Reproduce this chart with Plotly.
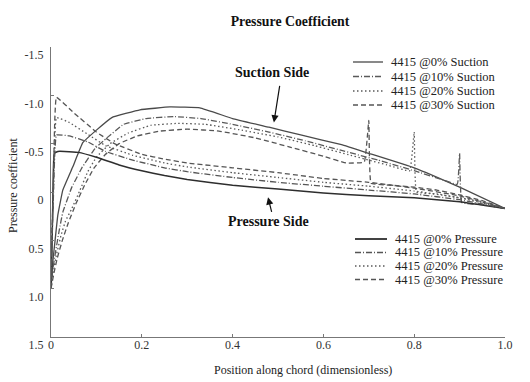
import plotly.graph_objects as go

# ---------------- data ----------------
x_suc_0 = [0, 0.004, 0.009, 0.015, 0.026, 0.048, 0.07, 0.10, 0.134, 0.196, 0.262, 0.328,
           0.40, 0.48, 0.55, 0.64, 0.70, 0.80, 0.90, 1.0]
cp_suc_0 = [1.0, 0.72, 0.50, 0.24, -0.02, -0.26, -0.51, -0.64, -0.77, -0.85, -0.88, -0.87,
            -0.76, -0.67, -0.59, -0.49, -0.40, -0.25, -0.05, 0.17]

x_suc_10 = [0, 0.004, 0.010, 0.018, 0.026, 0.045, 0.068, 0.097, 0.123, 0.16, 0.21, 0.27, 0.33,
            0.40, 0.48, 0.56, 0.64, 0.72, 0.80, 0.86, 0.895, 0.90, 0.905, 0.95, 1.0]
cp_suc_10 = [1.0, 0.80, 0.62, 0.40, 0.21, -0.04, -0.25, -0.45, -0.56, -0.70, -0.76, -0.78, -0.76,
             -0.70, -0.62, -0.53, -0.43, -0.33, -0.22, -0.13, -0.08, -0.40, 0.11, 0.13, 0.17]

x_suc_20 = [0, 0.005, 0.012, 0.022, 0.032, 0.046, 0.064, 0.081, 0.10, 0.13, 0.17, 0.22, 0.28,
            0.34, 0.42, 0.50, 0.58, 0.66, 0.74, 0.79, 0.80, 0.805, 0.85, 0.90, 0.95, 1.0]
cp_suc_20 = [1.0, 0.82, 0.65, 0.45, 0.30, 0.17, -0.02, -0.21, -0.36, -0.50, -0.61, -0.69, -0.71,
             -0.70, -0.64, -0.57, -0.48, -0.38, -0.28, -0.22, -0.62, 0.0, 0.02, 0.06, 0.10, 0.17]

x_suc_30 = [0, 0.006, 0.014, 0.025, 0.038, 0.055, 0.075, 0.095, 0.12, 0.15, 0.19, 0.24, 0.30,
            0.37, 0.45, 0.53, 0.60, 0.65, 0.69, 0.70, 0.705, 0.75, 0.80, 0.85, 0.90, 0.95, 1.0]
cp_suc_30 = [1.0, 0.85, 0.68, 0.50, 0.32, 0.12, -0.08, -0.25, -0.39, -0.50, -0.58, -0.63, -0.65,
             -0.63, -0.56, -0.46, -0.37, -0.30, -0.31, -0.74, -0.09, -0.07, -0.05, -0.02, 0.03, 0.09, 0.17]

x_pre_0 = [0, 0.002, 0.004, 0.007, 0.015, 0.03, 0.06, 0.10, 0.15, 0.20, 0.25, 0.30,
           0.40, 0.50, 0.60, 0.70, 0.80, 0.90, 1.0]
cp_pre_0 = [1.0, 0.60, 0.10, -0.40, -0.42, -0.42, -0.41, -0.36, -0.28, -0.22, -0.17, -0.13,
            -0.07, -0.03, 0.01, 0.04, 0.06, 0.10, 0.17]

x_pre_10 = [0, 0.002, 0.005, 0.012, 0.04, 0.08, 0.12, 0.18, 0.25, 0.30, 0.40, 0.50, 0.60,
            0.70, 0.80, 0.90, 1.0]
cp_pre_10 = [1.0, 0.55, 0.10, -0.59, -0.58, -0.52, -0.42, -0.33, -0.25, -0.21, -0.15, -0.10, -0.06,
             -0.02, 0.02, 0.08, 0.17]

x_pre_20 = [0, 0.002, 0.005, 0.012, 0.04, 0.08, 0.12, 0.18, 0.25, 0.30, 0.40, 0.50, 0.60,
            0.70, 0.80, 0.90, 1.0]
cp_pre_20 = [1.0, 0.50, 0.05, -0.77, -0.72, -0.60, -0.48, -0.38, -0.30, -0.26, -0.20, -0.15, -0.10,
             -0.06, -0.01, 0.06, 0.17]

x_pre_30 = [0, 0.002, 0.005, 0.012, 0.05, 0.10, 0.14, 0.20, 0.25, 0.30, 0.40, 0.50, 0.60,
            0.70, 0.80, 0.90, 1.0]
cp_pre_30 = [1.0, 0.45, 0.0, -0.98, -0.82, -0.62, -0.50, -0.39, -0.34, -0.30, -0.25, -0.20, -0.14,
             -0.10, -0.04, 0.04, 0.17]

suction_names = ["4415 @0% Suction", "4415 @10% Suction", "4415 @20% Suction", "4415 @30% Suction"]
pressure_names = ["4415 @0% Pressure", "4415 @10% Pressure", "4415 @20% Pressure", "4415 @30% Pressure"]

x_ticks = [0, 0.2, 0.4, 0.6, 0.8, 1.0]
x_ticktext = ["0", "0.2", "0.4", "0.6", "0.8", "1.0"]
y_ticks = [-1.5, -1.0, -0.5, 0, 0.5, 1.0, 1.5]
y_ticktext = ["-1.5", "-1.0", "-0.5", "0", "0.5", "1.0", "1.5"]

# ---------------- styling ----------------
FONT = "Liberation Serif"
dashes = ["solid", "6px,2px,1px,2px", "1.5px,2.5px", "5px,3px"]
colors_s = ["#4a4a4a", "#5a5a5a", "#5a5a5a", "#555555"]
colors_p = ["#2e2e2e", "#555555", "#5a5a5a", "#555555"]

fig = go.Figure()

suction = [(x_suc_0, cp_suc_0), (x_suc_10, cp_suc_10), (x_suc_20, cp_suc_20), (x_suc_30, cp_suc_30)]
pressure = [(x_pre_0, cp_pre_0), (x_pre_10, cp_pre_10), (x_pre_20, cp_pre_20), (x_pre_30, cp_pre_30)]

for i, (xs, ys) in enumerate(suction):
    fig.add_trace(go.Scatter(x=xs, y=ys, mode="lines", name=suction_names[i], showlegend=False,
                             line=dict(color=colors_s[i], width=1.3, dash=dashes[i],
                                       shape="spline", smoothing=0.25)))
for i, (xs, ys) in enumerate(pressure):
    fig.add_trace(go.Scatter(x=xs, y=ys, mode="lines", name=pressure_names[i], showlegend=False,
                             line=dict(color=colors_p[i], width=1.5 if i == 0 else 1.3, dash=dashes[i],
                                       shape="spline", smoothing=0.25)))

# plot area in pixels: x 51..505, y 47..337
L, R, T, B = 51, 505, 47, 337
def px(p):
    return (p - L) / (R - L)
def py(p):
    return (B - p) / (B - T)

shapes = []
annotations = []

def legend_block(names, rows, lx0, lx1, tx, widths, cols):
    for i, name in enumerate(names):
        y = rows[i]
        shapes.append(dict(type="line", xref="paper", yref="paper",
                           x0=px(lx0), x1=px(lx1), y0=py(y), y1=py(y),
                           line=dict(color=cols[i], width=widths[i], dash=dashes[i])))
        annotations.append(dict(text=name, xref="paper", yref="paper", x=px(tx), y=py(y),
                                xanchor="left", yanchor="middle", showarrow=False,
                                font=dict(family=FONT, size=12.5, color="#222")))

legend_block(suction_names, [62, 76.5, 91, 105], 353, 383, 389, [1.3] * 4, colors_s)
legend_block(pressure_names, [239, 252.5, 266, 279.5], 355, 387, 393, [1.8, 1.3, 1.3, 1.3], colors_p)

# labels and arrows
annotations.append(dict(text="<b>Suction Side</b>", x=0.487, y=-1.24, showarrow=False,
                        font=dict(family=FONT, size=14, color="#111")))
annotations.append(dict(text="<b>Pressure Side</b>", x=0.478, y=0.31, showarrow=False,
                        font=dict(family=FONT, size=14, color="#111")))
annotations.append(dict(text="", x=0.491, y=-0.72, ax=6, ay=-38, showarrow=True,
                        arrowhead=2, arrowsize=1.2, arrowwidth=1.2, arrowcolor="#111"))
annotations.append(dict(text="", x=0.478, y=0.055, ax=4, ay=16, showarrow=True,
                        arrowhead=2, arrowsize=1.2, arrowwidth=1.2, arrowcolor="#111"))

# axis titles
annotations.append(dict(text="Position along chord (dimensionless)", xref="paper", yref="paper",
                        x=px(303), y=py(370), showarrow=False, xanchor="center", yanchor="middle",
                        font=dict(family=FONT, size=12, color="#222")))
annotations.append(dict(text="Pressure coefficient", xref="paper", yref="paper",
                        x=px(13), y=py(186), showarrow=False, textangle=-90,
                        xanchor="center", yanchor="middle",
                        font=dict(family=FONT, size=12, color="#222")))

fig.update_layout(
    width=530, height=382,
    margin=dict(l=L, r=530 - R, t=T, b=382 - B),
    paper_bgcolor="white", plot_bgcolor="white",
    title=dict(text="<b>Pressure Coefficient</b>", x=290 / 530, xanchor="center",
               y=1 - 21 / 382, yanchor="middle",
               font=dict(family=FONT, size=13.8, color="#111")),
    shapes=shapes, annotations=annotations,
    font=dict(family=FONT, size=12, color="#222"),
)
fig.update_xaxes(range=[0, 1], tickvals=x_ticks, ticktext=x_ticktext, showgrid=False,
                 zeroline=False, showline=True, linecolor="#777", linewidth=1.2,
                 ticks="inside", ticklen=3, tickcolor="#777", ticklabelstandoff=-4,
                 tickfont=dict(family=FONT, size=12, color="#333"))
fig.update_yaxes(range=[1.5, -1.5], tickvals=y_ticks, ticktext=y_ticktext, showgrid=False,
                 zeroline=False, showline=True, linecolor="#777", linewidth=1.2,
                 ticks="inside", ticklen=3, tickcolor="#777", ticklabelshift=-8,
                 ticklabelstandoff=4,
                 tickfont=dict(family=FONT, size=12, color="#333"))

fig.write_html("out.html", config={"displayModeBar": False},
               post_script="document.body.style.margin='0';document.body.style.overflow='hidden';")
